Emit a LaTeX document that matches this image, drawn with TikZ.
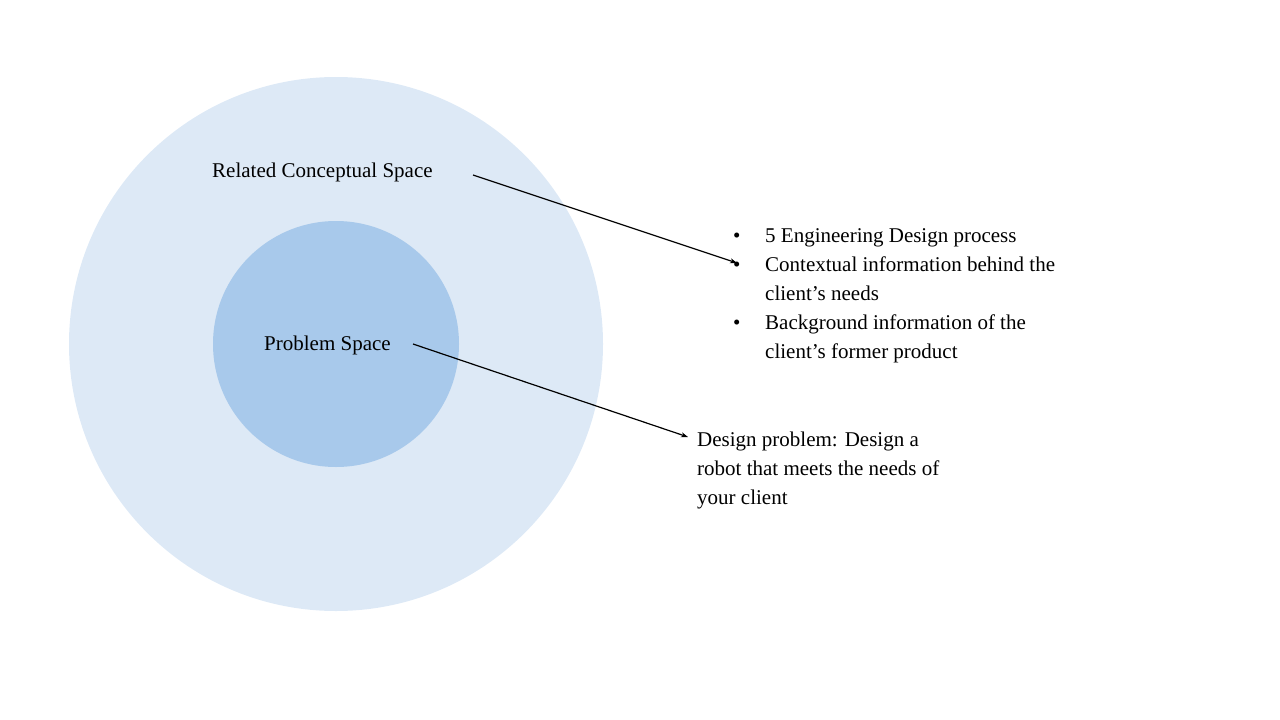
\documentclass[tikz,border=0pt]{standalone}
\usepackage{fontspec}
\setmainfont{Liberation Serif}
\usetikzlibrary{arrows.meta}
\definecolor{outerc}{HTML}{DDE9F6}
\definecolor{innerc}{HTML}{A8C9EB}
\tikzset{lbl/.style={anchor=west,inner sep=0pt,font=\fontsize{21}{29}\selectfont,align=left},
arr/.style={-{Stealth[length=7pt,width=5pt]},line width=1.2pt}}
\begin{document}
\begin{tikzpicture}[x=1pt,y=-1pt]
\useasboundingbox (0,0) rectangle (1280,720);
\fill[outerc] (336,344) circle (267);
\fill[innerc] (336,344) circle (123);
\node[lbl] (rcs) at (212,172) {Related Conceptual Space};
\node[lbl] (ps) at (264,345) {Problem Space};
\node[lbl,anchor=north west] (bul) at (733,228) {%
\makebox[32pt][l]{•}5 Engineering Design process\\
\makebox[32pt][l]{•}Contextual information behind the\\
\hspace*{32pt}client’s needs\\
\makebox[32pt][l]{•}Background information of the\\
\hspace*{32pt}client’s former product};
\node[lbl,anchor=north west] (dp) at (697,432) {Design problem: Design a\\robot that meets the needs of\\your client};
\coordinate (a1) at (473,175);
\coordinate (b1) at (737,263);
\coordinate (a2) at (413,344);
\coordinate (b2) at (688,437);
\draw[arr] (a1) -- (b1);
\draw[arr] (a2) -- (b2);
\end{tikzpicture}
\end{document}
